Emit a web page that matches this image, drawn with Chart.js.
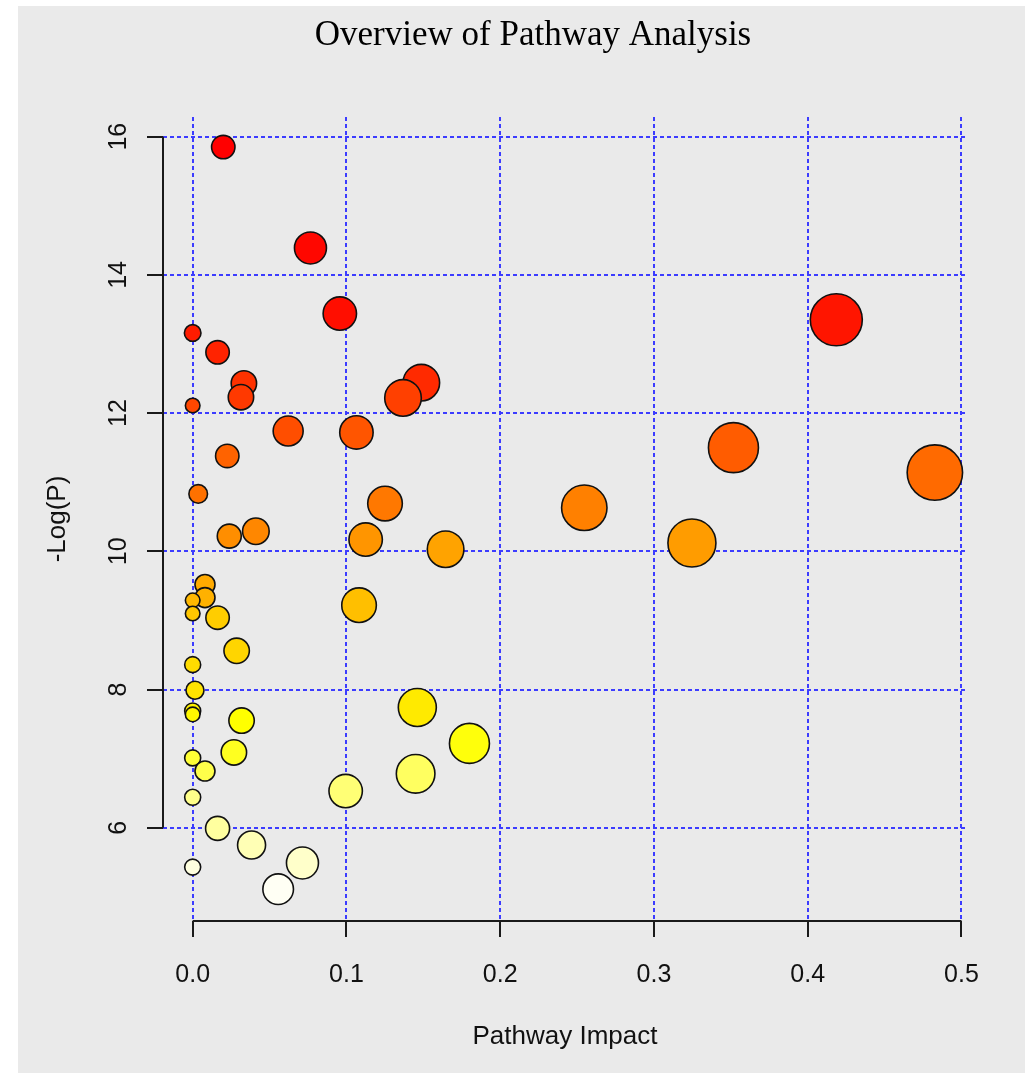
<!DOCTYPE html>
<html>
<head>
<meta charset="utf-8">
<title>Overview of Pathway Analysis</title>
<script src="https://cdn.jsdelivr.net/npm/chart.js@4.4.0/dist/chart.umd.min.js"></script>
<style>
  html, body { margin: 0; padding: 0; background: #fff; }
  canvas { display: block; }
</style>
</head>
<body>
<canvas id="chart" width="1025" height="1073"></canvas>
<script>
// pathway impact (x), -log(p) (y) and circle radius
const impact = [
  0.0199, 0.0766, 0.0957, 0.4186, 0.0, 0.0162, 0.1487, 0.0333, 0.0314, 0.1368,
  0.0, 0.0621, 0.1065, 0.3517, 0.0225, 0.4827, 0.0036, 0.1251, 0.2547, 0.0411,
  0.0238, 0.1125, 0.3247, 0.1645, 0.008, 0.008, 0.0, 0.1082, 0.0, 0.0162,
  0.0286, 0.0, 0.0015, 0.1461, 0.0, 0.0, 0.0318, 0.180, 0.0268, 0.0,
  0.008, 0.145, 0.0995, 0.0, 0.0162, 0.0383, 0.0714, 0.0, 0.0556,
];
const logP = [
  15.85, 14.39, 13.44, 13.35, 13.16, 12.88, 12.44, 12.43, 12.23, 12.22,
  12.11, 11.74, 11.72, 11.50, 11.38, 11.14, 10.83, 10.69, 10.63, 10.29,
  10.22, 10.17, 10.12, 10.03, 9.52, 9.33, 9.29, 9.22, 9.10, 9.04,
  8.56, 8.36, 7.99, 7.74, 7.69, 7.64, 7.55, 7.22, 7.09, 7.01,
  6.82, 6.78, 6.53, 6.44, 5.99, 5.75, 5.49, 5.43, 5.11,
];
const radius = [
  11.7, 16, 16.7, 26, 8.3, 11.7, 18.3, 12.7, 12.7, 18.3,
  7.3, 15, 16.7, 25, 11.7, 27.7, 9.3, 17.3, 22.7, 13.3,
  12, 16.7, 24, 18.3, 10, 10, 7.3, 17.3, 7.3, 11.7,
  12.7, 8, 9, 19, 8, 7.3, 12.7, 20, 12.7, 8,
  10, 19.3, 16.7, 8, 12, 14, 16, 8, 15.3,
];
const xTicks = [0, 0.1, 0.2, 0.3, 0.4, 0.5];
const yTicks = [6, 8, 10, 12, 14, 16];

function hsv(h, s, v) {
  const i = Math.floor(h * 6), f = h * 6 - i;
  const p = v * (1 - s), q = v * (1 - f * s), t = v * (1 - (1 - f) * s);
  const rgb = [[v, t, p], [q, v, p], [p, v, t], [p, q, v], [t, p, v], [v, p, q]][i % 6];
  return 'rgb(' + rgb.map(c => Math.round(c * 255)).join(',') + ')';
}

// same as R's heat.colors(n)
function heatColors(n) {
  const j = Math.floor(n / 4), i = n - j;
  const cols = [];
  for (let k = 0; k < i; k++) cols.push(hsv(i > 1 ? (k / (i - 1)) / 6 : 0, 1, 1));
  const s0 = 1 - 1 / (2 * j), s1 = 1 / (2 * j);
  for (let k = 0; k < j; k++) cols.push(hsv(1 / 6, j > 1 ? s0 + (s1 - s0) * k / (j - 1) : s0, 1));
  return cols;
}

// colour by rank of -log(p), most significant first
const order = logP.map((v, i) => i).sort((a, b) => logP[b] - logP[a]);
const heat = heatColors(logP.length);
const pointColors = [];
order.forEach((idx, rank) => { pointColors[idx] = heat[rank]; });

const points = impact.map((x, i) => ({ x: x, y: logP[i], r: radius[i] }));

const axisInk = '#1a1a1a';
const gridBlue = '#3c3cff';
const sans = 'Liberation Sans, Arial, Helvetica, sans-serif';

const backdrop = {
  id: 'backdrop',
  beforeDraw(chart) {
    const ctx = chart.ctx;
    ctx.save();
    ctx.fillStyle = '#ffffff';
    ctx.fillRect(0, 0, chart.width, chart.height);
    ctx.fillStyle = '#eaeaea';
    ctx.fillRect(18, 6, chart.width - 18, chart.height - 6);
    ctx.restore();
  },
};

// R style axes: line runs only from the first to the last tick, plus the main title
const rAxes = {
  id: 'rAxes',
  afterDraw(chart) {
    const ctx = chart.ctx;
    const xs = chart.scales.x, ys = chart.scales.y;
    const area = chart.chartArea;
    ctx.save();
    ctx.strokeStyle = axisInk;
    ctx.lineWidth = 2;
    ctx.beginPath();
    ctx.moveTo(xs.getPixelForValue(xTicks[0]), area.bottom);
    ctx.lineTo(xs.getPixelForValue(xTicks[xTicks.length - 1]), area.bottom);
    ctx.moveTo(area.left, ys.getPixelForValue(yTicks[0]));
    ctx.lineTo(area.left, ys.getPixelForValue(yTicks[yTicks.length - 1]));
    ctx.stroke();

    ctx.fillStyle = '#000';
    ctx.font = '35px "Liberation Serif", "Times New Roman", serif';
    ctx.textAlign = 'center';
    ctx.textBaseline = 'alphabetic';
    ctx.fillText('Overview of Pathway Analysis', 533, 45);
    ctx.restore();
  },
};

new Chart(document.getElementById('chart'), {
  type: 'bubble',
  data: {
    datasets: [
      {
        data: points,
        backgroundColor: pointColors,
        borderColor: '#111',
        borderWidth: 1.6,
        hoverBorderWidth: 1.6,
      },
    ],
  },
  options: {
    responsive: false,
    animation: false,
    events: [],
    layout: { padding: { top: 117, right: 58, bottom: 0, left: 0 } },
    plugins: {
      legend: { display: false },
      tooltip: { enabled: false },
    },
    scales: {
      x: {
        type: 'linear',
        min: -0.0193,
        max: 0.5036,
        afterBuildTicks: (scale) => {
          scale.ticks = xTicks.map((v) => ({ value: v }));
        },
        afterFit: (scale) => {
          scale.height = 152;
        },
        border: { display: false, dash: [4, 3] },
        grid: {
          color: gridBlue,
          lineWidth: 2,
          tickLength: 16,
          tickColor: axisInk,
          tickWidth: 2,
          tickBorderDash: [],
        },
        ticks: {
          padding: 23,
          color: '#111',
          font: { family: sans, size: 25 },
          maxRotation: 0,
          callback: (v) => Number(v).toFixed(1),
        },
        title: {
          display: true,
          text: 'Pathway Impact',
          color: '#111',
          font: { family: sans, size: 26 },
          padding: { top: 0, bottom: 21 },
        },
      },
      y: {
        type: 'linear',
        min: 4.65,
        max: 16.285,
        afterBuildTicks: (scale) => {
          scale.ticks = yTicks.map((v) => ({ value: v }));
        },
        afterFit: (scale) => {
          scale.width = 163;
        },
        border: { display: false, dash: [4, 3] },
        grid: {
          color: gridBlue,
          lineWidth: 2,
          tickLength: 16,
          tickColor: axisInk,
          tickWidth: 2,
          tickBorderDash: [],
        },
        ticks: {
          padding: 14,
          color: '#111',
          font: { family: sans, size: 25 },
          minRotation: 90,
          maxRotation: 90,
          crossAlign: 'center',
          callback: (v) => String(v),
        },
        title: {
          display: true,
          text: '-Log(P)',
          color: '#111',
          font: { family: sans, size: 26 },
          padding: { top: 42, bottom: 0 },
        },
      },
    },
  },
  plugins: [backdrop, rAxes],
});
</script>
</body>
</html>
